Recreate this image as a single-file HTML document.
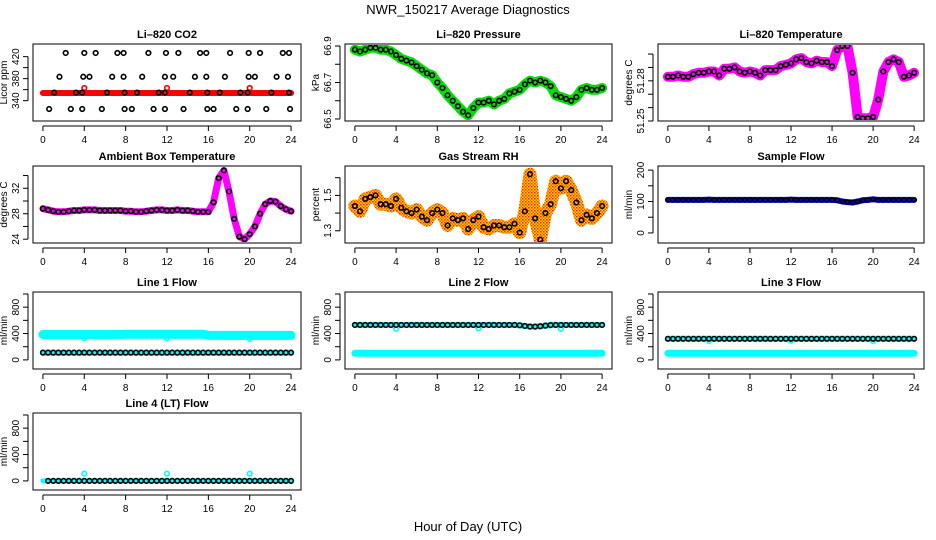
<!DOCTYPE html>
<html><head><meta charset="utf-8"><style>
html,body{margin:0;padding:0;background:#fff;}
svg{display:block;font-family:"Liberation Sans",sans-serif;}
</style></head><body>
<svg id="chart" width="936" height="540" viewBox="0 0 936 540" xmlns="http://www.w3.org/2000/svg">
<defs>
<pattern id="rhpat" width="3" height="3" patternUnits="userSpaceOnUse"><rect width="3" height="3" fill="#ffd700"/><rect width="1.5" height="1.5" fill="#ff2000"/><rect x="1.5" y="1.5" width="1.5" height="1.5" fill="#ff6000"/></pattern>
</defs>
<text x="468" y="14" text-anchor="middle" font-size="13">NWR_150217  Average Diagnostics</text>
<text x="468" y="531" text-anchor="middle" font-size="13">Hour of Day (UTC)</text>
</svg>
<script>
const hours=[0,0.5,1,1.5,2,2.5,3,3.5,4,4.5,5,5.5,6,6.5,7,7.5,8,8.5,9,9.5,10,10.5,11,11.5,12,12.5,13,13.5,14,14.5,15,15.5,16,16.5,17,17.5,18,18.5,19,19.5,20,20.5,21,21.5,22,22.5,23,23.5,24];
const xTicks=[0,4,8,12,16,20,24];
const outlierHours=[4,12,20];
// CO2
const co2Band=[354,354,354,354,354,354,354,354,354,354,354,354,354,354,354,354,354,354,354,354,354,354,354,354,354,354,354,354,354,354,354,354,354,354,354,354,354,354,354,354,354,354,354,354,354,354,354,354,354];
const co2RedOut=[363,363,363];
const co2HighHours=[2.2,4.0,5.1,7.2,7.8,10.2,11.9,13.1,15.2,15.8,18.1,19.9,21.0,23.2,23.8];
const co2MidHours=[1.6,3.9,4.5,6.7,7.8,9.6,11.8,12.6,14.7,15.8,17.6,19.9,20.5,22.6,23.7];
const co2BandHours=[1.1,3.2,3.8,6.2,7.9,9.1,11.2,11.8,14.2,15.9,17.1,19.1,19.8,22.1,23.8];
const co2LowHours=[0.6,2.7,3.8,5.7,7.9,8.6,10.7,11.8,13.6,15.9,16.5,18.7,19.8,21.6,23.9];
const co2Levels=[426.7,383.4,354.6,324.8];
// Pressure
const pressure=[66.88,66.87,66.88,66.89,66.89,66.88,66.88,66.87,66.85,66.83,66.82,66.81,66.79,66.77,66.75,66.74,66.70,66.67,66.63,66.60,66.57,66.54,66.52,66.56,66.59,66.59,66.60,66.58,66.60,66.61,66.64,66.65,66.66,66.69,66.71,66.70,66.71,66.70,66.68,66.63,66.62,66.61,66.60,66.62,66.66,66.67,66.66,66.66,66.67];
// Li-820 temperature
const liTemp=[51.283,51.283,51.284,51.283,51.283,51.285,51.286,51.286,51.287,51.287,51.284,51.289,51.289,51.290,51.287,51.286,51.287,51.286,51.284,51.288,51.288,51.288,51.291,51.292,51.293,51.296,51.297,51.294,51.293,51.295,51.294,51.294,51.291,51.303,51.306,51.306,51.286,51.253,51.252,51.252,51.253,51.266,51.287,51.294,51.296,51.294,51.283,51.284,51.286];
// Ambient box temperature
const ambient=[28.8,28.6,28.4,28.3,28.3,28.4,28.5,28.5,28.6,28.6,28.6,28.5,28.5,28.5,28.5,28.5,28.4,28.4,28.3,28.3,28.4,28.5,28.6,28.6,28.5,28.5,28.6,28.5,28.5,28.4,28.3,28.3,28.3,29.8,33.6,34.8,31.5,27.2,24.4,24.0,24.8,26.0,28.0,29.5,30.0,29.9,29.2,28.7,28.4];
// Gas stream RH
const rh=[1.44,1.41,1.48,1.49,1.50,1.45,1.45,1.44,1.48,1.43,1.41,1.40,1.42,1.38,1.36,1.40,1.42,1.40,1.33,1.37,1.36,1.37,1.31,1.36,1.38,1.32,1.31,1.33,1.33,1.32,1.32,1.34,1.29,1.41,1.62,1.37,1.25,1.40,1.45,1.58,1.54,1.58,1.53,1.46,1.36,1.39,1.37,1.40,1.44];
// Sample flow
const sampleFlow=[105,105,105,105,105,105,105,105,106,105,105,105,105,105,105,105,105,105,105,105,105,105,105,105,106,105,105,105,105,105,105,105,105,104,100,98,97,100,104,105,107,105,105,105,105,105,105,105,105];
// Line flows
const line1High=[385,385,385,385,385,385,385,385,385,385,385,385,385,385,385,385,388,388,388,388,388,388,388,388,388,388,388,388,388,388,388,388,375,372,372,372,372,372,372,372,372,372,372,372,372,372,372,372,372];
const line1HighOut=[330,330,318];
const line1Low=[110,110,110,110,110,110,110,110,110,110,110,110,110,110,110,110,110,110,110,110,110,110,110,110,110,110,110,110,110,110,110,110,110,110,110,110,110,110,110,110,110,110,110,110,110,110,110,110,110];
const line2High=[530,530,530,530,530,530,530,530,530,530,530,530,530,530,530,530,530,530,530,530,530,530,530,530,530,530,530,530,530,530,530,530,525,515,505,505,510,520,528,530,530,530,530,530,530,530,530,530,530];
const line2HighOut=[470,480,470];
const line2Low=[100,100,100,100,100,100,100,100,100,100,100,100,100,100,100,100,100,100,100,100,100,100,100,100,100,100,100,100,100,100,100,100,100,100,100,100,100,100,100,100,100,100,100,100,100,100,100,100,100];
const line3High=[320,320,320,320,320,320,320,320,320,320,320,320,320,320,320,320,320,320,320,320,320,320,320,320,320,320,320,320,320,320,320,320,320,320,320,320,320,320,320,320,320,320,320,320,320,320,320,320,320];
const line3HighOut=[285,290,285];
const line3Low=[100,100,100,100,100,100,100,100,100,100,100,100,100,100,100,100,100,100,100,100,100,100,100,100,100,100,100,100,100,100,100,100,100,100,100,100,100,100,100,100,100,100,100,100,100,100,100,100,100];
const line4=[0,0,0,0,0,0,0,0,0,0,0,0,0,0,0,0,0,0,0,0,0,0,0,0,0,0,0,0,0,0,0,0,0,0,0,0,0,0,0,0,0,0,0,0,0,0,0,0,0];
const line4Out=[110,110,110];
const flowTicks=[0,200,400,600,800,1000];
const flowLabels=[0,400,800];

const NS="http://www.w3.org/2000/svg";
const svg=document.getElementById('chart');
const cols=[{l:33,r:301},{l:345,r:612},{l:658,r:924}];
const rowTops=[44,166,292,413];
const PH=77;
function mk(tag,attrs,parent){const e=document.createElementNS(NS,tag);for(const k in attrs)e.setAttribute(k,attrs[k]);(parent||svg).appendChild(e);return e;}

function panel(c,r,name,title,ylab,dom,ticks,labels){
  const L=cols[c].l,R=cols[c].r,T=rowTops[r],B=T+PH;
  const g=mk('g',{});
  
  
  const xs=h=>L+(h+0.96)/25.92*(R-L);
  const ys=v=>B-(v-dom[0])/(dom[1]-dom[0])*(B-T);
  const t=mk('text',{x:(L+R)/2,y:T-6,'text-anchor':'middle','font-size':11,'font-weight':'bold'},g);
  t.textContent=title;
  
  
  const fr=mk('rect',{x:L,y:T,width:R-L,height:B-T,fill:'none',stroke:'#000','stroke-width':1},g);
  
  
  const xa=mk('g',{},g);
  
  
  mk('line',{x1:xs(0),x2:xs(24),y1:B+5,y2:B+5,stroke:'#000'},xa);
  xTicks.forEach(v=>{mk('line',{x1:xs(v),x2:xs(v),y1:B+5,y2:B+10,stroke:'#000'},xa);
    const tx=mk('text',{x:xs(v),y:B+22,'text-anchor':'middle','font-size':10},xa);tx.textContent=v;
    
    });
  const ya=mk('g',{},g);
  
  
  mk('line',{x1:L-5,x2:L-5,y1:ys(ticks[0]),y2:ys(ticks[ticks.length-1]),stroke:'#000'},ya);
  ticks.forEach(v=>mk('line',{x1:L-10,x2:L-5,y1:ys(v),y2:ys(v),stroke:'#000'},ya));
  labels.forEach(v=>{const yy=ys(v);const tx=mk('text',{x:L-14,y:yy,'text-anchor':'middle','font-size':10,transform:`rotate(-90 ${L-14} ${yy})`},ya);tx.textContent=v;
    
    });
  const yt=mk('text',{x:L-26,y:(T+B)/2,'text-anchor':'middle','font-size':10,transform:`rotate(-90 ${L-26} ${(T+B)/2})`},ya);
  yt.textContent=ylab;
  
  
  const clip='clip'+name;
  const cp=mk('clipPath',{id:clip},g);mk('rect',{x:L+1,y:T+1,width:R-L-2,height:B-T-2},cp);
  const data=mk('g',{'clip-path':`url(#${clip})`},g);
  
  
  return {xs,ys,g:data};
}
function band(p,hs,vals,color,w,nm){
  const d=hs.map((h,i)=>(i?'L':'M')+p.xs(h).toFixed(1)+','+p.ys(vals[i]).toFixed(1)).join('');
  const e=mk('path',{d,fill:'none',stroke:color,'stroke-width':w,'stroke-linecap':'round','stroke-linejoin':'round'},p.g);
  
  
}
function pts(p,hs,vals,color,nm,r){
  hs.forEach((h,i)=>{const c=mk('circle',{cx:p.xs(h),cy:p.ys(vals[i]),r:r||2.3,fill:'none',stroke:color,'stroke-width':1.6},p.g);
    
    });
}
function ptsConst(p,hs,v,color,nm){pts(p,hs,hs.map(()=>v),color,nm);}

// CO2
let p=panel(0,0,'co2','Li\u2013820 CO2','Licor ppm',[303,443],[340,360,380,400,420],[340,380,420]);
band(p,hours,co2Band,'#ff0000',6,'co2-band');
pts(p,outlierHours,co2RedOut,'#ff0000','co2-red-outlier');
ptsConst(p,co2HighHours,co2Levels[0],'#000','co2-point');
ptsConst(p,co2MidHours,co2Levels[1],'#000','co2-point');
ptsConst(p,co2BandHours,co2Levels[2],'#000','co2-point');
ptsConst(p,co2LowHours,co2Levels[3],'#000','co2-point');
// Pressure
p=panel(1,0,'pressure','Li\u2013820 Pressure','kPa',[66.489,66.911],[66.5,66.6,66.7,66.8,66.9],[66.5,66.7,66.9]);
band(p,hours,pressure,'#00e000',10,'pressure-band');
pts(p,hours,pressure,'#000','pressure-point');
// Li temp
p=panel(2,0,'li-temp','Li\u2013820 Temperature','degrees C',[51.25,51.3075],[51.25,51.26,51.27,51.28,51.29,51.30],[51.25,51.28]);
band(p,hours,liTemp,'#ff00ff',10,'li-temp-band');
pts(p,hours,liTemp,'#000','li-temp-point');
// Ambient
p=panel(0,1,'ambient','Ambient Box Temperature','degrees C',[23.4,35.5],[24,26,28,30,32,34],[24,28,32]);
band(p,hours,ambient,'#ff00ff',7,'ambient-band');
pts(p,hours,ambient,'#000','ambient-point');
// RH
p=panel(1,1,'rh','Gas Stream RH','percent',[1.231,1.666],[1.3,1.4,1.5,1.6],[1.3,1.5]);
band(p,hours,rh,'url(#rhpat)',13,'rh-band');
pts(p,hours,rh,'#000','rh-point');
// Sample flow
p=panel(2,1,'sample-flow','Sample Flow','ml/min',[-32,213],[0,50,100,150,200],[0,100,200]);
band(p,hours,sampleFlow,'#0000ff',6,'sample-flow-band');
pts(p,hours,sampleFlow,'#000','sample-flow-point',2);
// Line 1
p=panel(0,2,'line1','Line 1 Flow','ml/min',[-138,1030],flowTicks,flowLabels);
band(p,hours,line1High,'#00ffff',9,'line1-high-band');
pts(p,outlierHours,line1HighOut,'#00ffff','line1-outlier');
band(p,hours,line1Low,'#00ffff',6,'line1-low-band');
pts(p,hours,line1Low,'#000','line1-point',2.3);
// Line 2
p=panel(1,2,'line2','Line 2 Flow','ml/min',[-138,1030],flowTicks,flowLabels);
band(p,hours,line2High,'#00ffff',6,'line2-high-band');
pts(p,outlierHours,line2HighOut,'#00ffff','line2-outlier');
pts(p,hours,line2High,'#000','line2-point',2.3);
band(p,hours,line2Low,'#00ffff',7,'line2-low-band');
// Line 3
p=panel(2,2,'line3','Line 3 Flow','ml/min',[-138,1030],flowTicks,flowLabels);
band(p,hours,line3High,'#00ffff',6,'line3-high-band');
pts(p,outlierHours,line3HighOut,'#00ffff','line3-outlier');
pts(p,hours,line3High,'#000','line3-point',2.3);
band(p,hours,line3Low,'#00ffff',7,'line3-low-band');
// Line 4
p=panel(0,3,'line4','Line 4 (LT) Flow','ml/min',[-138,1030],flowTicks,flowLabels);
band(p,hours,line4,'#00ffff',5,'line4-band');
pts(p,outlierHours,line4Out,'#00ffff','line4-outlier');
pts(p,hours.slice(1),line4.slice(1),'#000','line4-point',2.3);
</script>
</body></html>
